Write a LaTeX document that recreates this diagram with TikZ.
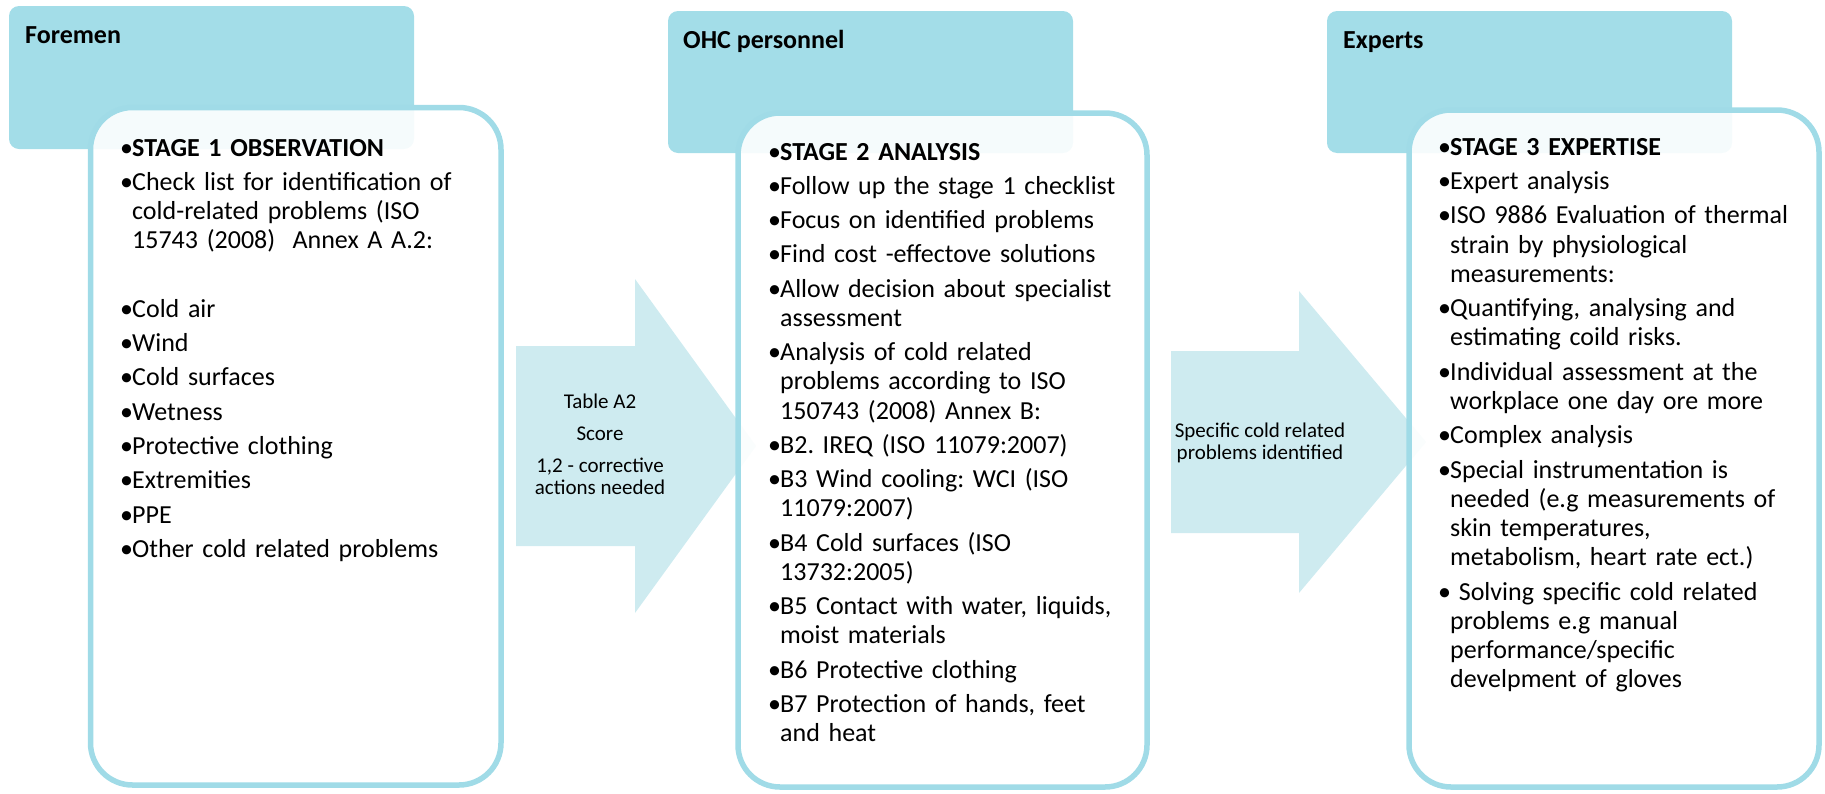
\documentclass[tikz,border=0pt]{standalone}
\usepackage{fontspec}
\setmainfont{Carlito}
\frenchspacing
\definecolor{hdr}{RGB}{163,221,232}
\definecolor{rim}{RGB}{160,219,231}
\definecolor{flow}{RGB}{206,235,240}
% bullet paragraphs with hanging text
\newcommand\bulmark{\llap{\makebox[12pt][l]{\textbullet}}}
\newcommand\firstitm{\noindent\bulmark}
\newcommand\itm{\par\noindent\bulmark}
\tikzset{
  header/.style={fill=hdr, rounded corners=10pt, anchor=north west,
    inner sep=0pt, outer sep=0pt, minimum width=405pt},
  panel/.style={draw=rim, line width=5.5pt, fill=white, fill opacity=0.9,
    rounded corners=42pt, anchor=north west, inner sep=0pt, outer sep=0pt},
  role/.style={font=\fontsize{26}{30}\selectfont\bfseries, anchor=base west, inner sep=0pt},
  list/.style={anchor=base west, inner sep=0pt, text width=400pt, align=left,
    font=\fontsize{26}{29.2}\selectfont},
  flowarrow/.style={fill=flow},
  % the base anchor of these labels sits on their last line
  flowtext/.style={font=\fontsize{21}{22}\selectfont, align=center, anchor=base, inner sep=0pt}
}
\begin{document}
\begin{tikzpicture}[x=1pt,y=-1pt]
\useasboundingbox (0,0) rectangle (1825,793);

% block arrows between the stages
\fill[flowarrow] (516,346) -- (635,346) -- (635,279) -- (756,446) -- (635,613)
  -- (635,546) -- (516,546) -- cycle;
\fill[flowarrow] (1171,351) -- (1299,351) -- (1299,291) -- (1426,442) -- (1299,593)
  -- (1299,533) -- (1171,533) -- cycle;

% role headers
\node[header, minimum height=143pt] (h1) at (9,6) {};
\node[header, minimum height=142pt] (h2) at (668,11) {};
\node[header, minimum height=142pt] (h3) at (1327,11) {};
\node[role] (r1) at (25,43) {Foremen};
\node[role] (r2) at (683,48) {OHC personnel};
\node[role] (r3) at (1343,48) {Experts};

% stage panels
\node[panel, minimum width=410.5pt, minimum height=677.5pt] (b1) at (90.5,107.5) {};
\node[panel, minimum width=409pt, minimum height=674pt] (b2) at (738,113) {};
\node[panel, minimum width=410pt, minimum height=677pt] (b3) at (1409,110) {};

% stage contents
\node[list] (t1) at (120,156) {\leftskip=12pt\parskip=5.1pt
\firstitm\textbf{STAGE 1 OBSERVATION}
\itm Check list for identification of\\cold-related problems (ISO\\15743 (2008) \ Annex A A.2:
\par\mbox{}
\itm Cold air
\itm Wind
\itm Cold surfaces
\itm Wetness
\itm Protective clothing
\itm Extremities
\itm PPE
\itm Other cold related problems\par};

\node[list] (t2) at (768,160) {\leftskip=12pt\parskip=5.1pt
\firstitm\textbf{STAGE 2 ANALYSIS}
\itm Follow up the stage 1 checklist
\itm Focus on identified problems
\itm Find cost -effectove solutions
\itm Allow decision about specialist\\assessment
\itm Analysis of cold related\\problems according to ISO\\150743 (2008) Annex B:
\itm B2. IREQ (ISO 11079:2007)
\itm B3 Wind cooling: WCI (ISO\\11079:2007)
\itm B4 Cold surfaces (ISO\\13732:2005)
\itm B5 Contact with water, liquids,\\moist materials
\itm B6 Protective clothing
\itm B7 Protection of hands, feet\\and heat\par};

\node[list] (t3) at (1438,155) {\leftskip=12pt\parskip=5.2pt
\firstitm\textbf{STAGE 3 EXPERTISE}
\itm Expert analysis
\itm ISO 9886 Evaluation of thermal\\strain by physiological\\measurements:
\itm Quantifying, analysing and\\estimating coild risks.
\itm Individual assessment at the\\workplace one day ore more
\itm Complex analysis
\itm Special instrumentation is\\needed (e.g measurements of\\skin temperatures,\\metabolism, heart rate ect.)
\itm\ Solving specific cold related\\problems e.g manual\\performance/specific\\develpment of gloves\par};

% arrow labels
\node[flowtext] (a1) at (600,494) {Table A2\\[9.5pt]Score\\[10pt]1,2 - corrective\\actions needed};
\node[flowtext] (a2) at (1260,459) {Specific cold related\\problems identified};
\end{tikzpicture}
\end{document}
